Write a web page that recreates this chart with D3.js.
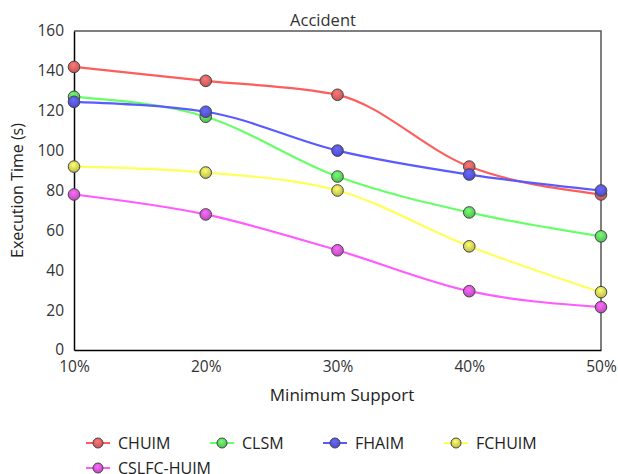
<!DOCTYPE html>
<html><head><meta charset="utf-8">
<script src="https://cdn.jsdelivr.net/npm/d3@7"></script>
<style>body{margin:0;background:#fff}text{font-family:"Open Sans",sans-serif}</style>
</head><body><svg id="c" width="618" height="474"></svg>
<script>
const categories = ["10%","20%","30%","40%","50%"];
const seriesNames = ["CHUIM","CLSM","FHAIM","FCHUIM","CSLFC-HUIM"];
const CHUIM = [142,135,128,92,78];
const CLSM = [127,117,87,69,57];
const FHAIM = [124.5,119.5,100,88,80];
const FCHUIM = [92,89,80,52,29];
const CSLFC_HUIM = [78,68,50,29.5,21.5];
const yTicks = [0,20,40,60,80,100,120,140,160];
const lineColors = ["#ff5c5c","#66ff66","#5a5aff","#ffff5a","#ff5cff"];
const dotColors = ["#d05a5a","#58c858","#5050d8","#c8c850","#c850c8"];
const values = [CHUIM,CLSM,FHAIM,FCHUIM,CSLFC_HUIM];

const svg = d3.select("#c");
const L=74,R=601,T=31,B=350;
const FS=16;
const x = d3.scalePoint().domain(categories).range([L,R]);
const y = d3.scaleLinear().domain([0,160]).range([B,T]);

const defs = svg.append("defs");
dotColors.forEach((c,i)=>{
  const g = defs.append("radialGradient").attr("id","g"+i).attr("cx","0.45").attr("cy","0.35").attr("r","0.65");
  g.append("stop").attr("offset","0%").attr("stop-color",d3.color(c).brighter(0.8));
  g.append("stop").attr("offset","100%").attr("stop-color",d3.color(c).darker(0.2));
});

// frame
svg.append("path").attr("d",`M${L},${T}H${R}V${B}`).attr("fill","none").attr("stroke","#555").attr("stroke-width",1.5);

const yAxis = svg.append("g").attr("transform",`translate(${L},0)`).call(d3.axisLeft(y).tickValues(yTicks).tickSize(0).tickPadding(10));
yAxis.select(".domain").attr("stroke","#000").attr("stroke-width",1.5);
yAxis.selectAll("text").attr("font-size",FS-0.5).attr("fill","#333").style("font-family","Open Sans");
const xAxis = svg.append("g").attr("transform",`translate(0,${B})`).call(d3.axisBottom(x).tickSize(0).tickPadding(11));
xAxis.select(".domain").attr("stroke","#000").attr("stroke-width",1.5);
xAxis.selectAll("text").attr("font-size",FS-0.5).attr("fill","#333").style("font-family","Open Sans");

svg.append("text").attr("x",323).attr("y",26).attr("text-anchor","middle").attr("font-size",FS+0.5).attr("fill","#333").text("Accident");
svg.append("text").attr("x",342).attr("y",401).attr("text-anchor","middle").attr("font-size",FS+1).attr("fill","#222").text("Minimum Support");
svg.append("text").attr("transform",`translate(23,${(T+B)/2}) rotate(-90)`).attr("text-anchor","middle").attr("font-size",FS).attr("fill","#222").text("Execution Time (s)");

const line = d3.line().x((d,i)=>x(categories[i])).y(d=>y(d)).curve(d3.curveMonotoneX);
values.forEach((v,i)=>{
  svg.append("path").attr("d",line(v)).attr("fill","none").attr("stroke",lineColors[i]).attr("stroke-width",2.2);
});
values.forEach((v,i)=>{
  svg.selectAll(null).data(v).enter().append("circle")
    .attr("cx",(d,j)=>x(categories[j])).attr("cy",d=>y(d)).attr("r",5.8)
    .attr("fill",`url(#g${i})`).attr("stroke","#444").attr("stroke-width",1);
});

// legend
const legPos = [[86,443],[210,443],[323,443],[444,443],[86,468]];
seriesNames.forEach((n,i)=>{
  const [lx,ly]=legPos[i];
  svg.append("line").attr("x1",lx).attr("x2",lx+24).attr("y1",ly).attr("y2",ly).attr("stroke",lineColors[i]).attr("stroke-width",2);
  svg.append("circle").attr("cx",lx+12).attr("cy",ly).attr("r",5).attr("fill",`url(#g${i})`).attr("stroke","#444").attr("stroke-width",1);
  svg.append("text").attr("x",lx+32).attr("y",ly+6).attr("font-size",FS).attr("fill","#222").text(n);
});
</script></body></html>
